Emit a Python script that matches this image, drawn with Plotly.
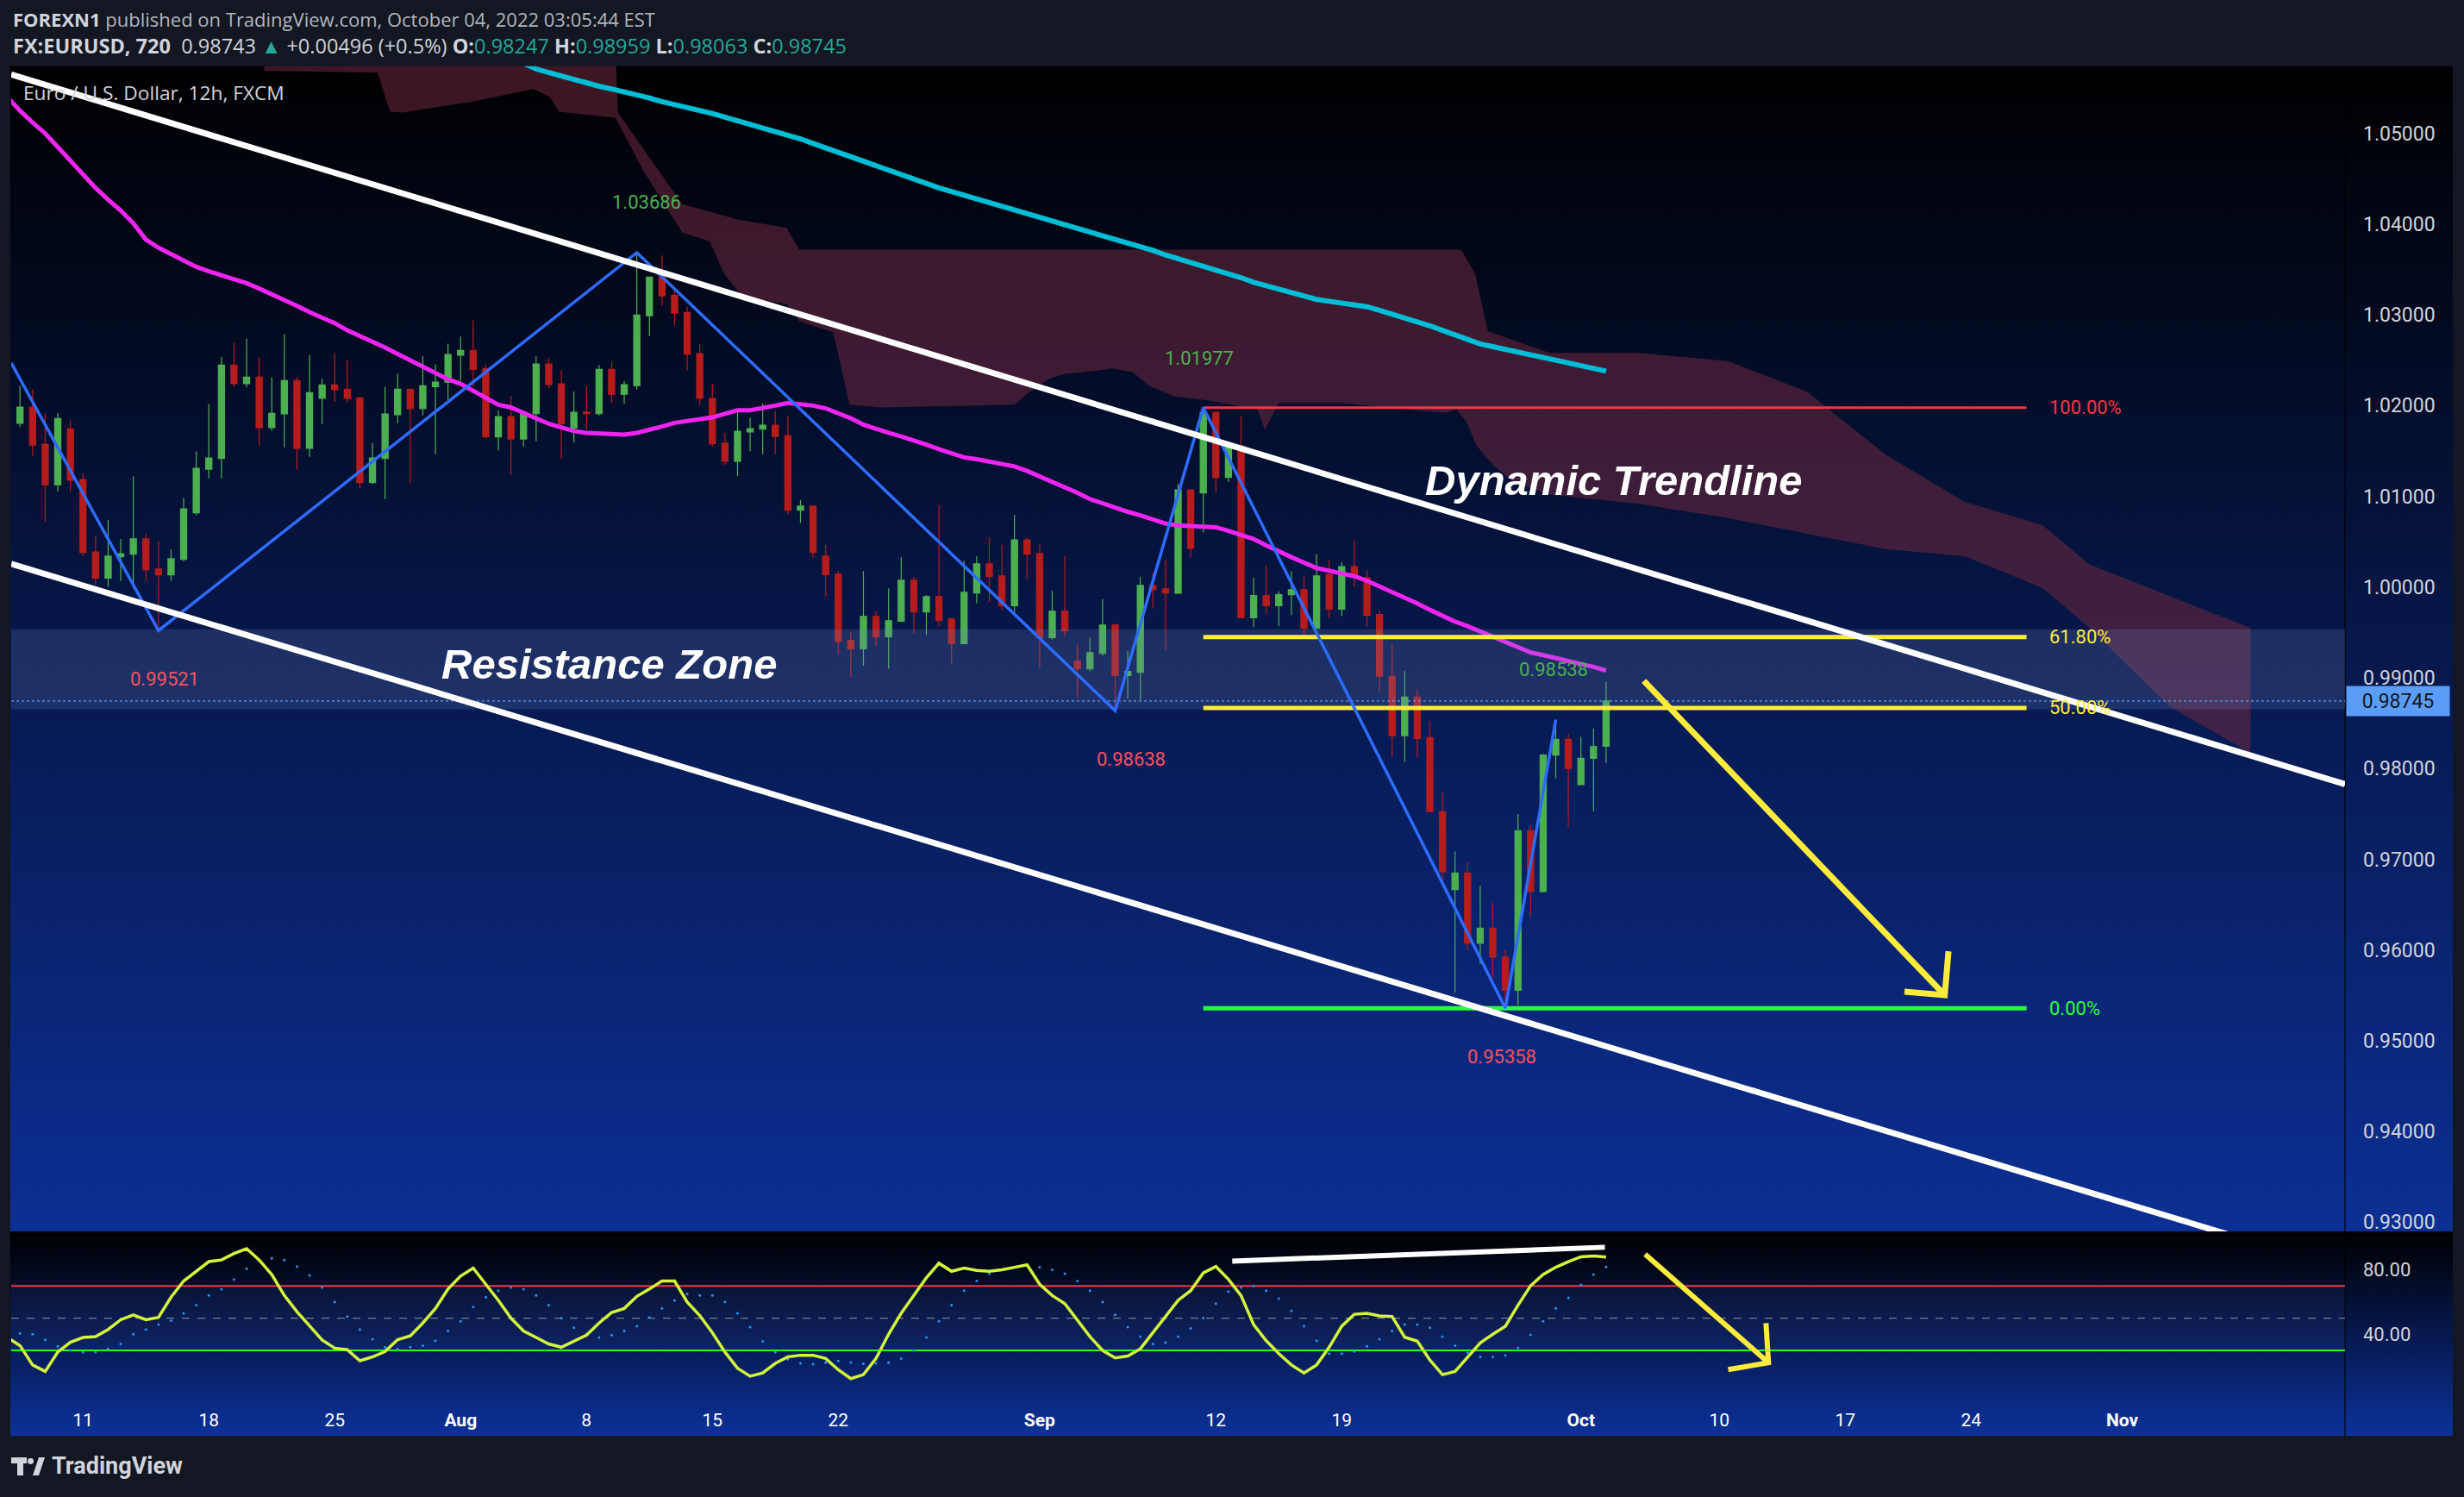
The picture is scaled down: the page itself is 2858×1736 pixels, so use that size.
import base64
import plotly.graph_objects as go

W, H = 2858, 1736

# ---------------- data ----------------
bar_i = list(range(127))
open_ = [1.01806, 1.01983, 1.01575, 1.01129, 1.01745, 1.01186, 1.00388, 1.00098, 1.00335, 1.00363,
         1.00531, 1.00199, 1.00135, 1.00306, 1.00819, 1.01300, 1.01417, 1.02448, 1.02242, 1.02315,
         1.01758, 1.01910, 1.02277, 1.01530, 1.02081, 1.02229, 1.02182, 1.02087, 1.01151, 1.01417,
         1.01900, 1.02182, 1.01967, 1.02210, 1.02259, 1.02556, 1.02609, 1.02406, 1.01655, 1.01880,
         1.01632, 1.01911, 1.02458, 1.02240, 1.01753, 1.01929, 1.01911, 1.02400, 1.02125, 1.02220,
         1.02991, 1.03416, 1.03216, 1.03027, 1.02573, 1.02080, 1.01586, 1.01387, 1.01710, 1.01740,
         1.01785, 1.01671, 1.00848, 1.00894, 1.00341, 1.00142, 0.99411, 0.99320, 0.99677, 0.99452,
         0.99623, 1.00075, 0.99727, 0.99895, 0.99648, 0.99376, 0.99936, 1.00256, 1.00123, 0.99794,
         1.00521, 1.00370, 0.99443, 0.99734, 0.99184, 0.99098, 0.99269, 0.99582, 0.99025, 0.99060,
         1.00019, 0.99981, 0.99933, 1.01072, 1.01037, 1.01926, 1.01208, 1.01556, 0.99662, 0.99908,
         0.99796, 0.99917, 0.99971, 0.99546, 1.00141, 0.99756, 1.00226, 1.00105, 0.99698, 0.99017,
         0.98363, 0.98789, 0.98341, 0.97526, 0.96666, 0.96850, 0.96075, 0.96241, 0.95923, 0.95556,
         0.97316, 0.96644, 0.98148, 0.98323, 0.97822, 0.98113, 0.98247]
high = [1.02217, 1.02179, 1.01916, 1.01916, 1.01837, 1.01258, 1.00559, 1.00740, 1.00531, 1.01220,
        1.00588, 1.00509, 1.00417, 1.00983, 1.01496, 1.02018, 1.02539, 1.02694, 1.02739, 1.02530,
        1.02312, 1.02789, 1.02312, 1.02558, 1.02296, 1.02581, 1.02505, 1.02087, 1.01590, 1.02207,
        1.02353, 1.02182, 1.02549, 1.02455, 1.02684, 1.02762, 1.02942, 1.02455, 1.01946, 1.02106,
        1.01916, 1.02543, 1.02524, 1.02390, 1.02155, 1.02220, 1.02449, 1.02478, 1.02269, 1.03686,
        1.03416, 1.03654, 1.03288, 1.03092, 1.02684, 1.02240, 1.01697, 1.01959, 1.01867, 1.02027,
        1.01939, 1.01890, 1.00959, 1.00894, 1.00462, 1.00177, 0.99506, 1.00177, 0.99734, 0.99987,
        1.00328, 1.00113, 0.99914, 1.00901, 0.99661, 1.00290, 1.00341, 1.00550, 1.00465, 1.00797,
        1.00550, 1.00474, 0.99958, 1.00341, 0.99373, 0.99440, 0.99867, 0.99598, 0.99297, 1.00113,
        1.00151, 1.00303, 1.01138, 1.01072, 1.01977, 1.01926, 1.01572, 1.01882, 1.00105, 1.00235,
        0.99953, 1.00177, 1.00123, 1.00365, 1.00293, 1.00271, 1.00513, 1.00186, 0.99752, 0.99375,
        0.99080, 0.98878, 0.98520, 0.97745, 0.97087, 0.96975, 0.96706, 0.96523, 0.96003, 0.97499,
        0.97378, 0.98162, 0.98538, 0.98381, 0.98350, 0.98439, 0.98959]
low = [1.01764, 1.01445, 1.00724, 1.01056, 1.01056, 1.00344, 1.00025, 1.00003, 1.00066, 0.99987,
       1.00060, 0.99521, 1.00069, 1.00284, 1.00793, 1.01198, 1.01198, 1.02210, 1.02201, 1.01559,
       1.01720, 1.01540, 1.01300, 1.01436, 1.01796, 1.02043, 1.02033, 1.01084, 1.01138, 1.00971,
       1.01806, 1.01141, 1.01891, 1.01465, 1.02063, 1.02275, 1.02210, 1.01645, 1.01508, 1.01237,
       1.01550, 1.01606, 1.02194, 1.01416, 1.01596, 1.01736, 1.01893, 1.02030, 1.02021, 1.02177,
       1.02766, 1.03105, 1.02886, 1.02390, 1.02001, 1.01550, 1.01348, 1.01224, 1.01498, 1.01465,
       1.01465, 1.00802, 1.00707, 1.00325, 0.99900, 0.99259, 0.99006, 0.99133, 0.99348, 0.99101,
       0.99614, 0.99490, 0.99471, 0.99569, 0.99149, 0.99376, 0.99822, 0.99832, 0.99746, 0.99718,
       1.00088, 0.99111, 0.99424, 0.99455, 0.98777, 0.99073, 0.99244, 0.98638, 0.98769, 0.98759,
       0.99765, 0.99310, 0.99924, 1.00325, 1.00601, 1.01046, 1.01160, 0.99661, 0.99559, 0.99702,
       0.99568, 0.99693, 0.99460, 0.99546, 0.99666, 0.99680, 1.00002, 0.99559, 0.98851, 0.98126,
       0.98072, 0.98126, 0.97517, 0.96693, 0.95529, 0.95999, 0.95842, 0.95699, 0.95358, 0.95386,
       0.96362, 0.96635, 0.97893, 0.97351, 0.97822, 0.97530, 0.98063]
close = [1.01983, 1.01565, 1.01129, 1.01859, 1.01179, 1.00382, 1.00098, 1.00341, 1.00369, 1.00531,
         1.00192, 1.00135, 1.00313, 1.00863, 1.01309, 1.01423, 1.02448, 1.02242, 1.02315, 1.01758,
         1.01916, 1.02277, 1.01530, 1.02144, 1.02229, 1.02176, 1.02081, 1.01151, 1.01423, 1.01907,
         1.02182, 1.01967, 1.02220, 1.02259, 1.02563, 1.02609, 1.02400, 1.01655, 1.01880, 1.01632,
         1.01916, 1.02458, 1.02233, 1.01802, 1.01926, 1.01911, 1.02400, 1.02125, 1.02230, 1.02998,
         1.03416, 1.03210, 1.03020, 1.02566, 1.02080, 1.01580, 1.01387, 1.01717, 1.01746, 1.01785,
         1.01661, 1.00848, 1.00894, 1.00381, 1.00136, 0.99402, 0.99320, 0.99677, 0.99452, 0.99630,
         1.00075, 0.99727, 0.99895, 0.99633, 0.99376, 0.99943, 1.00256, 1.00117, 0.99794, 1.00521,
         1.00363, 0.99443, 0.99734, 0.99519, 0.99098, 0.99278, 0.99582, 0.99025, 0.99070, 1.00019,
         0.99971, 0.99936, 1.01072, 1.00427, 1.01926, 1.01208, 1.01559, 0.99661, 0.99908, 0.99796,
         0.99917, 0.99971, 0.99546, 1.00123, 0.99756, 1.00226, 1.00123, 0.99689, 0.99017, 0.98363,
         0.98789, 0.98332, 0.97526, 0.96863, 0.96850, 0.96075, 0.96241, 0.95923, 0.95556, 0.97316,
         0.96644, 0.98148, 0.98323, 0.98001, 0.98113, 0.98242, 0.98745]

ma_fast_i = list(range(-1, 127))
ma_fast = [1.0540,
           1.0525, 1.0512, 1.0500, 1.0485, 1.0470, 1.0455, 1.0440, 1.0427, 1.0415, 1.0401,
           1.0383, 1.0374, 1.0367, 1.0359, 1.0353, 1.0348, 1.0344, 1.0340, 1.0335, 1.0329,
           1.0323, 1.0316, 1.0310, 1.0303, 1.0297, 1.0291, 1.0283, 1.0277, 1.0270, 1.0264,
           1.0257, 1.0250, 1.0244, 1.0237, 1.0229, 1.0224, 1.0216, 1.0208, 1.0201, 1.0198,
           1.0192, 1.0185, 1.0180, 1.0176, 1.0172, 1.0170, 1.0169, 1.0168, 1.0168, 1.0170,
           1.0173, 1.0177, 1.0181, 1.0183, 1.0185, 1.0187, 1.0191, 1.0195, 1.0195, 1.0197,
           1.0200, 1.0203, 1.0202, 1.0200, 1.0197, 1.0192, 1.0186, 1.0179, 1.0174, 1.0170,
           1.0166, 1.0162, 1.0157, 1.0152, 1.0148, 1.0143, 1.0141, 1.0138, 1.0136, 1.0133,
           1.0128, 1.0122, 1.0117, 1.0110, 1.0104, 1.0097, 1.0092, 1.0087, 1.0083, 1.0079,
           1.0074, 1.0070, 1.0068, 1.0067, 1.0066, 1.0066, 1.0062, 1.0058, 1.0053, 1.0046,
           1.0039, 1.0033, 1.0027, 1.0021, 1.0018, 1.0015, 1.0012, 1.0007, 1.0001, 0.9995,
           0.9989, 0.9982, 0.9975, 0.9968, 0.9962, 0.9957, 0.9951, 0.9946, 0.9940, 0.9933,
           0.9928, 0.9925, 0.9922, 0.9919, 0.9915, 0.9912, 0.9908]

ma_slow_i = list(range(38, 127))
ma_slow = [1.0590, 1.0584, 1.0578, 1.0571, 1.0567, 1.0563, 1.0559, 1.0556, 1.0552, 1.0549,
           1.0546, 1.0542, 1.0539, 1.0535, 1.0532, 1.0528, 1.0525, 1.0522, 1.0518, 1.0514,
           1.0510, 1.0506, 1.0502, 1.0499, 1.0494, 1.0489, 1.0484, 1.0479, 1.0474, 1.0469,
           1.0464, 1.0459, 1.0454, 1.0449, 1.0444, 1.0440, 1.0436, 1.0432, 1.0428, 1.0424,
           1.0420, 1.0416, 1.0412, 1.0408, 1.0404, 1.0400, 1.0395, 1.0391, 1.0387, 1.0383,
           1.0379, 1.0375, 1.0371, 1.0366, 1.0362, 1.0358, 1.0354, 1.0350, 1.0346, 1.0341,
           1.0336, 1.0332, 1.0328, 1.0324, 1.0320, 1.0317, 1.0315, 1.0313, 1.0311, 1.0309,
           1.0305, 1.0301, 1.0297, 1.0293, 1.0288, 1.0283, 1.0278, 1.0273, 1.0268, 1.0265,
           1.0262, 1.0259, 1.0255, 1.0252, 1.0249, 1.0246, 1.0243, 1.0240, 1.0238]

cloud_top_i = [19.4, 47.3, 47.5, 50.8, 52.6, 57.1, 60.9, 61.9, 114.5, 115.6, 116.6, 121.5, 128.5,
               135.7, 142.0, 148.2, 154.5, 160.7, 164.4, 177.2]
cloud_top_p = [1.0595, 1.0595, 1.0523, 1.0457, 1.0422, 1.0405, 1.0396, 1.0372, 1.0372, 1.0345,
               1.0282, 1.0258, 1.0258, 1.0249, 1.0215, 1.0146, 1.0094, 1.0068, 1.0025, 0.9955]
cloud_bot_i = [19.4, 28.4, 29.4, 30.4, 35.9, 40.8, 42.1, 42.8, 47.3, 49.6, 52.6, 54.8, 55.9, 57.4,
               60.9, 61.9, 64.6, 65.9, 68.3, 79.0, 80.0, 81.8, 83.0, 85.9, 86.7, 88.4, 89.7, 91.7,
               94.2, 95.4, 98.3, 98.9, 100.0, 105.0, 111.6, 113.3, 114.1, 114.9, 115.7, 117.0,
               118.6, 121.5, 128.5, 135.7, 142.0, 148.2, 154.5, 160.7, 164.4, 170.7, 177.2]
cloud_bot_p = [1.0569, 1.0567, 1.0524, 1.0523, 1.0535, 1.0549, 1.0540, 1.0524, 1.0517, 1.0457,
               1.0391, 1.0381, 1.0346, 1.0320, 1.0312, 1.0293, 1.0281, 1.0201, 1.0198, 1.0201,
               1.0213, 1.0230, 1.0235, 1.0239, 1.0241, 1.0237, 1.0222, 1.0210, 1.0206, 1.0203,
               1.0196, 1.0173, 1.0203, 1.0203, 1.0194, 1.0192, 1.0196, 1.0182, 1.0156, 1.0135,
               1.0116, 1.0102, 1.0092, 1.0076, 1.0059, 1.0042, 1.0034, 0.9999, 0.9955, 0.9869,
               0.9817]

osc_i = list(range(-1, 127))
osc_main = [38,
            33, 21, 17, 29, 35, 38, 38.5, 43, 49, 52,
            49, 50.5, 63, 73, 79, 85, 86, 90, 93, 86,
            77, 64, 54, 45, 36.5, 31.4, 30.5, 23.6, 26, 29.3,
            36.7, 39, 47, 56, 68, 76, 81, 71, 61, 50,
            42, 38, 34, 32, 36, 39.5, 47, 53.5, 56, 63.5,
            68, 73, 73, 60, 51.6, 41, 29, 19, 14, 16,
            22, 26, 27, 27, 25, 18, 12.5, 15, 25, 40,
            53, 64, 75, 84, 79, 81, 79.5, 79, 80, 81.5,
            83, 71, 64, 59, 49, 38.5, 30, 25.4, 26.5, 31,
            41, 51, 61, 67, 78, 82, 74, 64, 46, 36,
            28, 21, 16, 21, 32, 45, 52.4, 53, 51.4, 51,
            38.2, 35.7, 24, 15, 17, 25.8, 34.7, 40, 45, 58,
            70, 77, 81.5, 85, 88, 88.5, 87.8]
osc_signal = [41,
              40.5, 40, 36.6, 32.6, 30, 29, 29, 31, 34, 40,
              43, 46, 48.5, 53, 58, 64, 68, 74, 80.6, 85.5,
              87, 86, 82, 76.5, 69, 60, 51, 43, 37, 32,
              31, 32, 33, 36, 42, 48, 57, 63, 67, 69,
              68, 64, 58, 50, 44, 40, 38, 39.5, 42, 45,
              50.5, 56, 61, 65, 64, 64, 60, 53, 44.5, 35.6,
              29, 24.5, 22, 21.5, 22.4, 23.5, 22.6, 21.7, 22, 22.4,
              25, 30, 38, 48, 58, 67, 73, 77.6, 80, 81.6,
              82.4, 81.6, 80, 77.6, 73, 67, 60, 52, 44.5, 38.6,
              34, 35, 38.6, 43.6, 50, 59, 66.5, 69, 70, 67,
              62, 54.6, 45, 36, 28, 28, 29.3, 32.6, 37, 42,
              46, 46, 44, 38.6, 33, 28.6, 26, 26, 27, 31.6,
              39.6, 48, 56, 62.6, 70.6, 77, 81.7]
osc_levels = [70, 50, 30]

# drawings (anchor points in bar index / price)
zigzag_i = [-0.7, 11, 49, 87, 94, 118, 122]
zigzag_p = [1.0247, 0.99521, 1.03686, 0.98638, 1.01977, 0.95358, 0.98538]
pivot_labels = ["0.99521", "1.03686", "0.98638", "1.01977", "0.95358", "0.98538"]
pivot_label_i = [11.5, 49.8, 88.3, 93.7, 117.7, 121.8]
pivot_label_p = [0.98985, 1.04241, 0.98102, 1.02524, 0.94820, 0.99089]
pivot_is_high = [False, True, False, True, False, True]

chan_upper_i = [-0.7, 184.7]
chan_upper_p = [1.0565, 0.97827]
chan_lower_i = [-0.7, 184.7]
chan_lower_p = [1.00256, 0.92476]

zone_p = [0.98653, 0.99535]

fib_i = [94, 159.4]
fib_prices = [1.01977, 0.99449, 0.98668, 0.95358]
fib_labels = ["100.00%", "61.80%", "50.00%", "0.00%"]
fib_colors = ["#f23645", "#ffeb3b", "#ffeb3b", "#2bff3c"]
fib_widths = [3, 5, 5, 5]

arrow_i = [129.0, 152.9]
arrow_p = [0.98966, 0.95503]
arrow_head_i = [149.7, 152.9, 153.2]
arrow_head_p = [0.95541, 0.95503, 0.95987]

osc_trend_i = [96.3, 125.9]
osc_trend_v = [85.3, 93.9]
osc_arrow_i = [129.1, 138.9]
osc_arrow_v = [89.6, 22.4]
osc_head_i = [135.7, 138.9, 138.7]
osc_head_v = [18.1, 22.4, 46.9]

last_price = 0.98745

time_tick_pos = [5, 15, 25, 35, 45, 55, 65, 81, 95, 105, 124, 135, 145, 155, 167]
time_tick_txt = ["11", "18", "25", "Aug", "8", "15", "22", "Sep", "12", "19", "Oct", "10", "17", "24", "Nov"]
price_ticks = [0.93, 0.94, 0.95, 0.96, 0.97, 0.98, 0.99, 1.00, 1.01, 1.02, 1.03, 1.04, 1.05]
osc_ticks = [40, 80]

# ---------------- layout helpers ----------------
def px(x):
    return x / W


def py(y):
    return 1 - y / H


X0, X1 = 13, 2720
MAIN_T, MAIN_B = 77, 1431
OSC_T, OSC_B = 1432, 1625
XR = [-0.7, 184.7]
YR = [0.92894, 1.0574]
OR = [0, 102.9]

FONT = "Roboto, 'Open Sans', sans-serif"
HFONT = "'Open Sans', Roboto, sans-serif"
TXT = "#d1d4dc"


def grad(top, bottom):
    svg = ('<svg xmlns="http://www.w3.org/2000/svg" width="10" height="100" viewBox="0 0 10 100" '
           'preserveAspectRatio="none"><defs><linearGradient id="g" x1="0" y1="0" x2="0" y2="1">'
           f'<stop offset="0" stop-color="{top}"/><stop offset="1" stop-color="{bottom}"/>'
           '</linearGradient></defs><rect width="10" height="100" fill="url(#g)"/></svg>')
    return "data:image/svg+xml;base64," + base64.b64encode(svg.encode()).decode()


fig = go.Figure()

# Ichimoku cloud
fig.add_trace(go.Scatter(x=cloud_top_i + cloud_bot_i[::-1], y=cloud_top_p + cloud_bot_p[::-1],
                         fill="toself", fillcolor="rgba(112,40,62,0.55)", line=dict(width=0),
                         mode="lines", xaxis="x", yaxis="y", hoverinfo="skip"))

# candles
fig.add_trace(go.Candlestick(x=bar_i, open=open_, high=high, low=low, close=close,
                             increasing=dict(line=dict(color="#4caf50", width=1.2), fillcolor="#4caf50"),
                             decreasing=dict(line=dict(color="#b71c1c", width=1.2), fillcolor="#b71c1c"),
                             whiskerwidth=0, xaxis="x", yaxis="y"))

# moving averages
fig.add_trace(go.Scatter(x=ma_slow_i, y=ma_slow, mode="lines", line=dict(color="#00bcd4", width=6),
                         xaxis="x", yaxis="y"))
fig.add_trace(go.Scatter(x=ma_fast_i, y=ma_fast, mode="lines", line=dict(color="#f024f0", width=5),
                         xaxis="x", yaxis="y"))

# resistance zone
fig.add_trace(go.Scatter(x=[XR[0], XR[1], XR[1], XR[0]], y=[zone_p[0], zone_p[0], zone_p[1], zone_p[1]],
                         fill="toself", fillcolor="rgba(115,135,190,0.22)", line=dict(width=0),
                         mode="lines", xaxis="x", yaxis="y"))

# last price dotted line
fig.add_trace(go.Scatter(x=XR, y=[last_price, last_price], mode="lines",
                         line=dict(color="#5b9cf6", width=1.3, dash="dot"), xaxis="x", yaxis="y"))

# fib levels
for p, c, w in zip(fib_prices, fib_colors, fib_widths):
    fig.add_trace(go.Scatter(x=fib_i, y=[p, p], mode="lines", line=dict(color=c, width=w),
                             xaxis="x", yaxis="y"))

# zigzag
fig.add_trace(go.Scatter(x=zigzag_i, y=zigzag_p, mode="lines", line=dict(color="#2f6bff", width=3.5),
                         xaxis="x", yaxis="y"))

# channel
fig.add_trace(go.Scatter(x=chan_upper_i, y=chan_upper_p, mode="lines", line=dict(color="#ffffff", width=7),
                         xaxis="x", yaxis="y"))
fig.add_trace(go.Scatter(x=chan_lower_i, y=chan_lower_p, mode="lines", line=dict(color="#ffffff", width=7),
                         xaxis="x", yaxis="y"))

# arrow
fig.add_trace(go.Scatter(x=arrow_i, y=arrow_p, mode="lines", line=dict(color="#ffeb3b", width=7),
                         xaxis="x", yaxis="y"))
fig.add_trace(go.Scatter(x=arrow_head_i, y=arrow_head_p, mode="lines", line=dict(color="#ffeb3b", width=7),
                         xaxis="x", yaxis="y"))

# ---- oscillator ----
fig.add_trace(go.Scatter(x=[XR[0], XR[1], XR[1], XR[0]], y=[osc_levels[2], osc_levels[2], osc_levels[0], osc_levels[0]],
                         fill="toself", fillcolor="rgba(100,130,255,0.07)", line=dict(width=0),
                         mode="lines", xaxis="x2", yaxis="y2"))
fig.add_trace(go.Scatter(x=XR, y=[osc_levels[0]] * 2, mode="lines", line=dict(color="#f23645", width=2),
                         xaxis="x2", yaxis="y2"))
fig.add_trace(go.Scatter(x=XR, y=[osc_levels[1]] * 2, mode="lines",
                         line=dict(color="#787b86", width=1.2, dash="dash"), xaxis="x2", yaxis="y2"))
fig.add_trace(go.Scatter(x=XR, y=[osc_levels[2]] * 2, mode="lines", line=dict(color="#1eff1e", width=2),
                         xaxis="x2", yaxis="y2"))
fig.add_trace(go.Scatter(x=osc_i, y=osc_signal, mode="markers",
                         marker=dict(color="#2196f3", size=3, symbol="circle"), xaxis="x2", yaxis="y2"))
fig.add_trace(go.Scatter(x=osc_i, y=osc_main, mode="lines", line=dict(color="#d4f53c", width=3.5),
                         xaxis="x2", yaxis="y2"))
fig.add_trace(go.Scatter(x=osc_trend_i, y=osc_trend_v, mode="lines", line=dict(color="#ffffff", width=6),
                         xaxis="x2", yaxis="y2"))
fig.add_trace(go.Scatter(x=osc_arrow_i, y=osc_arrow_v, mode="lines", line=dict(color="#ffeb3b", width=6),
                         xaxis="x2", yaxis="y2"))
fig.add_trace(go.Scatter(x=osc_head_i, y=osc_head_v, mode="lines", line=dict(color="#ffeb3b", width=6),
                         xaxis="x2", yaxis="y2"))

# ---------------- annotations ----------------
ann = []
teal = "#26a69a"
ann.append(dict(xref="paper", yref="paper", x=px(13), y=py(22), xanchor="left", yanchor="middle",
                showarrow=False, font=dict(family=HFONT, size=22, color="#b2b5be"),
                text="<span style='color:#d1d4dc'><b>FOREXN1</b></span> published on TradingView.com, October 04, 2022 03:05:44 EST"))
ann.append(dict(xref="paper", yref="paper", x=px(13), y=py(53), xanchor="left", yanchor="middle",
                showarrow=False, font=dict(family=HFONT, size=23.5, color=TXT),
                text=(f"<b>FX:EURUSD, 720</b>  0.98743 <span style='color:{teal}'>▲</span> +0.00496 (+0.5%) "
                      f"<b>O:</b><span style='color:{teal}'>0.98247</span> <b>H:</b><span style='color:{teal}'>0.98959</span> "
                      f"<b>L:</b><span style='color:{teal}'>0.98063</span> <b>C:</b><span style='color:{teal}'>0.98745</span>")))
ann.append(dict(xref="paper", yref="paper", x=px(25), y=py(108), xanchor="left", yanchor="middle",
                showarrow=False, font=dict(family=HFONT, size=22.7, color=TXT),
                text="Euro / U.S. Dollar, 12h, FXCM"))

for t, xi, yp, hi in zip(pivot_labels, pivot_label_i, pivot_label_p, pivot_is_high):
    ann.append(dict(xref="x", yref="y", x=xi, y=yp, showarrow=False, xanchor="center", yanchor="middle",
                    font=dict(family=FONT, size=22, color="#4caf50" if hi else "#f7525f"), text=t))

for t, p, c in zip(fib_labels, fib_prices, fib_colors):
    ann.append(dict(xref="x", yref="y", x=161.1, y=p, showarrow=False, xanchor="left", yanchor="middle",
                    font=dict(family=FONT, size=22, color=c), text=t))

ann.append(dict(xref="x", yref="y", x=126.6, y=1.01176, showarrow=False, xanchor="center", yanchor="middle",
                font=dict(family="Liberation Sans, Arial, sans-serif", size=49, color="#ffffff"),
                text="<b><i>Dynamic Trendline</i></b>"))
ann.append(dict(xref="x", yref="y", x=46.8, y=0.99156, showarrow=False, xanchor="center", yanchor="middle",
                font=dict(family="Liberation Sans, Arial, sans-serif", size=49, color="#ffffff"),
                text="<b><i>Resistance Zone</i></b>"))

ann.append(dict(xref="paper", yref="y", x=px(2721), y=last_price, xanchor="left", yanchor="middle",
                showarrow=False, bgcolor="#5b9cf6", width=117, height=32, borderpad=1,
                font=dict(family=FONT, size=23, color="#131722"), text=f"{last_price:.5f}"))

ann.append(dict(xref="paper", yref="paper", x=px(58), y=py(1703), xanchor="left", yanchor="middle",
                showarrow=False, font=dict(family=FONT, size=27, color=TXT), text="<b>TradingView</b>"))

# ---------------- shapes ----------------
shapes = [
    dict(type="line", xref="paper", yref="paper", x0=px(X1), x1=px(X1), y0=py(MAIN_T), y1=py(1668),
         line=dict(color="rgba(0,0,0,0.55)", width=2), layer="below"),
    dict(type="line", xref="paper", yref="paper", x0=px(12), x1=px(2845), y0=py(1431.5), y1=py(1431.5),
         line=dict(color="#05070d", width=2)),
    # TradingView logo glyph
    dict(type="rect", xref="paper", yref="paper", x0=px(13), x1=px(31), y0=py(1700), y1=py(1693),
         fillcolor=TXT, line=dict(width=0)),
    dict(type="rect", xref="paper", yref="paper", x0=px(20), x1=px(27), y0=py(1714), y1=py(1693),
         fillcolor=TXT, line=dict(width=0)),
    dict(type="circle", xref="paper", yref="paper", x0=px(32), x1=px(39), y0=py(1701), y1=py(1694),
         fillcolor=TXT, line=dict(width=0)),
    dict(type="path", xref="paper", yref="paper",
         path=f"M {px(38)},{py(1714)} L {px(45)},{py(1693)} L {px(52)},{py(1693)} L {px(45)},{py(1714)} Z",
         fillcolor=TXT, line=dict(width=0)),
]

images = [
    dict(source=grad("#000000", "#0c2f94"), xref="paper", yref="paper", x=px(12), y=py(MAIN_T),
         sizex=px(2845) - px(12), sizey=(MAIN_B - MAIN_T) / H, xanchor="left", yanchor="top",
         sizing="stretch", layer="below"),
    dict(source=grad("#000000", "#0c3199"), xref="paper", yref="paper", x=px(12), y=py(OSC_T),
         sizex=px(2845) - px(12), sizey=(1668 - OSC_T) / H, xanchor="left", yanchor="top",
         sizing="stretch", layer="below"),
]

axis_common = dict(showgrid=False, zeroline=False, showline=False, ticks="")

fig.update_layout(
    width=W, height=H, autosize=False,
    margin=dict(l=0, r=0, t=0, b=0, pad=0),
    paper_bgcolor="#131722", plot_bgcolor="rgba(0,0,0,0)",
    showlegend=False,
    annotations=ann, shapes=shapes, images=images,
    xaxis=dict(domain=[px(X0), px(X1)], range=XR, showticklabels=False, anchor="y",
               rangeslider=dict(visible=False), **axis_common),
    yaxis=dict(domain=[py(MAIN_B), py(MAIN_T)], range=YR, side="right", anchor="x",
               tickvals=price_ticks, ticktext=[f"{v:.5f}" for v in price_ticks],
               tickfont=dict(family=FONT, size=23, color=TXT), ticklabelstandoff=20, **axis_common),
    xaxis2=dict(domain=[px(X0), px(X1)], range=XR, anchor="y2",
                tickvals=time_tick_pos,
                ticktext=[f"<b>{t}</b>" if t.isalpha() else t for t in time_tick_txt],
                tickfont=dict(family=FONT, size=21, color="#ffffff"), ticklabelstandoff=10, **axis_common),
    yaxis2=dict(domain=[py(OSC_B), py(OSC_T)], range=OR, side="right", anchor="x2",
                tickvals=osc_ticks, ticktext=[f"{v:.2f}" for v in osc_ticks],
                tickfont=dict(family=FONT, size=22, color=TXT), ticklabelstandoff=20, **axis_common),
)

fig.write_html("out.html", config={"displayModeBar": False},
               post_script="document.body.style.margin='0px';document.body.style.overflow='hidden';")
